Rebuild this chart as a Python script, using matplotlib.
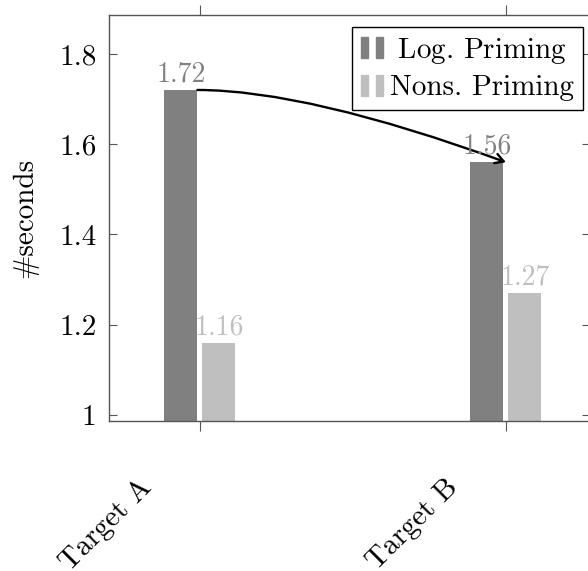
import numpy as np
import matplotlib
matplotlib.use("Agg")
import matplotlib.pyplot as plt
import matplotlib.transforms as mtransforms
from matplotlib.patches import Rectangle, FancyArrowPatch
from matplotlib.legend_handler import HandlerTuple

# 데이터
targets = ['Target A', 'Target B']
log_priming = [1.72, 1.56]
nons_priming = [1.16, 1.27]

# 폰트 (Computer Modern 느낌)
plt.rcParams['font.family'] = 'serif'
plt.rcParams['font.serif'] = ['cmr10']
plt.rcParams['axes.formatter.use_mathtext'] = True
plt.rcParams['font.size'] = 21

dark = '#808080'
light = '#bfbfbf'
axis_col = '#555555'

fig = plt.figure(figsize=(5.88, 5.71), dpi=100)
ax = fig.add_axes([109 / 588, 150 / 571, 481 / 588, 406 / 571])

x = np.arange(len(targets))
w = 0.108
off = 0.062
ax.bar(x - off, log_priming, w, color=dark)
ax.bar(x + off, nons_priming, w, color=light)

# 막대 위 값 표시
for xi, v in zip(x - off, log_priming):
    ax.annotate(f'{v:.2f}', (xi, v), xytext=(0, 2), textcoords='offset points',
                ha='center', va='bottom', color=dark, fontsize=20)
for xi, v in zip(x + off, nons_priming):
    ax.annotate(f'{v:.2f}', (xi, v), xytext=(0, 2), textcoords='offset points',
                ha='center', va='bottom', color=light, fontsize=20)

# 곡선 화살표 (시작은 수평)
arr = FancyArrowPatch((x[0] - off + w / 2, log_priming[0]), (x[1], log_priming[1]),
                      connectionstyle='angle3,angleA=0,angleB=-20',
                      arrowstyle='->,head_length=6,head_width=3.5',
                      color='black', lw=1.7, shrinkA=0, shrinkB=0)
ax.add_patch(arr)

ax.set_xlim(-0.297, 1.275)
ax.set_ylim(0.987, 1.886)
ax.set_yticks([1, 1.2, 1.4, 1.6, 1.8])
ax.set_yticklabels(['1', '1.2', '1.4', '1.6', '1.8'])
ax.set_xticks(x)
ax.set_xticklabels([])

# x축 라벨 (45도 회전, 축에서 조금 떨어뜨림)
trans = mtransforms.blended_transform_factory(ax.transData, ax.transAxes)
trans = trans + mtransforms.ScaledTranslation(-0.52, -0.62, fig.dpi_scale_trans)
for xi, t in zip(x, targets):
    ax.text(xi, 0, t, transform=trans, rotation=45, rotation_mode='anchor',
            ha='right', va='center', clip_on=False)

ax.tick_params(axis='x', direction='out', top=True, length=7, width=0.8, color=axis_col)
ax.tick_params(axis='y', direction='in', right=True, length=6, width=0.8, color=axis_col, pad=9)
for s in ax.spines.values():
    s.set_color(axis_col)
    s.set_linewidth(1.0)

ax.set_ylabel('#seconds', labelpad=15)

# 범례 (pgfplots 스타일의 작은 막대 두 개)
h1 = (Rectangle((0, 0), 1, 1, color=dark), Rectangle((0, 0), 1, 1, color=dark))
h2 = (Rectangle((0, 0), 1, 1, color=light), Rectangle((0, 0), 1, 1, color=light))
leg = fig.legend([h1, h2], [r'$\;$Log. Priming', 'Nons. Priming'],
                 handler_map={tuple: HandlerTuple(ndivide=None, pad=0.28)},
                 loc='upper right', bbox_to_anchor=(583 / 588, 1 - 27 / 571),
                 fancybox=False, framealpha=1, edgecolor='black', fontsize=21,
                 handlelength=0.76, handleheight=0.76, handletextpad=0.24,
                 borderpad=0.3, labelspacing=0.3, borderaxespad=0)
leg.get_frame().set_linewidth(1.0)

fig.savefig('out.png', dpi=100)
